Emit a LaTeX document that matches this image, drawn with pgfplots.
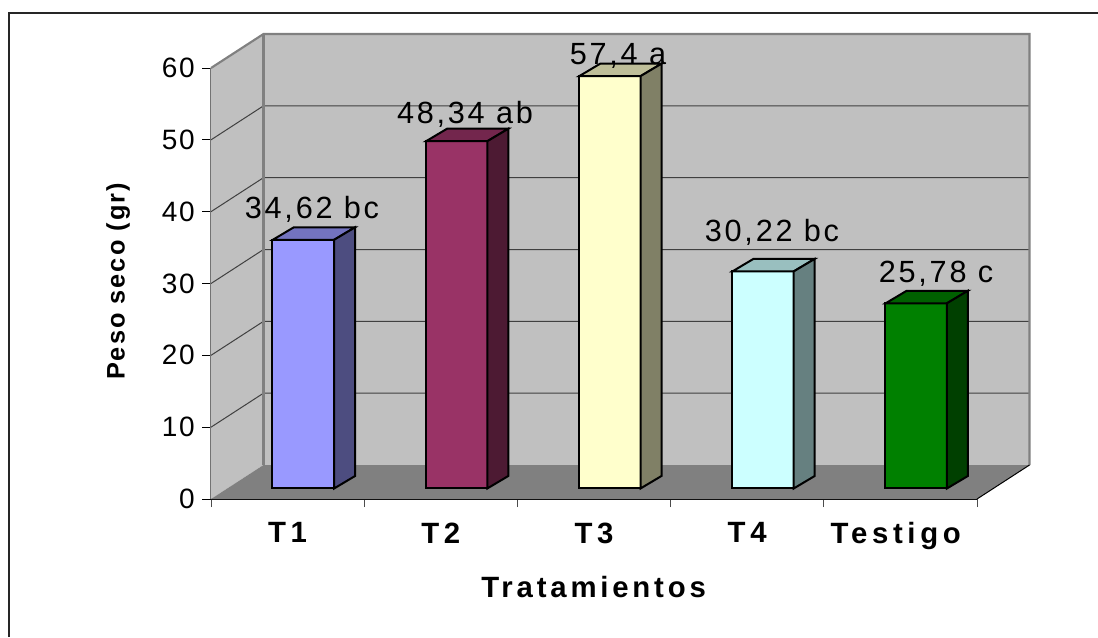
\documentclass[border=0pt]{standalone}
\usepackage{pgfplots}
\pgfplotsset{compat=1.18}
\usepackage{fontspec}
\setmainfont{Liberation Sans}
\newfontfamily\lab[LetterSpace=9]{Liberation Sans}
\newfontfamily\blab[LetterSpace=13]{Liberation Sans Bold}
\newfontfamily\xtlab[LetterSpace=16]{Liberation Sans Bold}
\newfontfamily\yblab[LetterSpace=8]{Liberation Sans Bold}
\newfontfamily\ticklab[LetterSpace=6]{Liberation Sans}
% 1 px of the reference = 0.75pt
\definecolor{wall}{HTML}{C0C0C0}
\definecolor{floorc}{HTML}{808080}
\begin{document}
\begin{tikzpicture}[x=0.75pt,y=-0.75pt]
\path[use as bounding box] (0,0) rectangle (1098,637);
\draw[line width=1.2pt,black!85] (9,637) -- (9,13) -- (1098,13);
\begin{axis}[
  at={(158.25pt,-374.25pt)},anchor=south west,
  scale only axis,width=574.5pt,height=323.25pt,
  xmin=0.5,xmax=5.5,ymin=0,ymax=60,
  clip=false,
  axis x line=bottom,axis y line=left,
  x axis line style={-,black,line width=1pt},
  y axis line style={-,black!55,line width=1.2pt},
  xtick={1,2,3,4,5},
  xticklabels={T1,T2,T3,T4,Testigo\rule{7pt}{0pt}},
  minor xtick={0.5,1.5,2.5,3.5,4.5,5.5},
  major tick length=6.75pt,
  minor tick length=6pt,
  ytick={0,10,20,30,40,50,60},
  y tick style={black,line width=0.75pt},
  x tick style={draw=none},
  minor x tick style={draw=black!70,line width=0.75pt},
  tick align=outside,
  yticklabel style={font=\fontsize{21}{24}\ticklab,xshift=-2pt,/pgf/number format/assume math mode=true},
  xticklabel style={font=\fontsize{22}{24}\xtlab,yshift=-7.5pt},
  xlabel={Tratamientos},
  ylabel={Peso seco (gr)},
  xlabel style={font=\fontsize{22}{24}\blab,at={(axis description cs:0.4995,-0.2042)},anchor=center},
  ylabel style={font=\fontsize{19}{22}\yblab,at={(axis description cs:-0.1214,0.5046)},anchor=center},
]
% walls and floor
\addplot[fill=wall,draw=none] coordinates {(0.5,0)(0.8427,4.735)(0.8427,64.735)(0.5,60)} -- cycle;
\addplot[fill=wall,draw=none] coordinates {(0.8427,4.735)(5.8427,4.735)(5.8427,64.735)(0.8427,64.735)} -- cycle;
\addplot[fill=floorc,draw=none] coordinates {(0.5,0)(5.5,0)(5.8427,4.735)(0.8427,4.735)} -- cycle;
% grid
\addplot[black!75,line width=0.75pt] coordinates {(0.5,10)(0.8427,14.735)(5.8427,14.735)};
\addplot[black!75,line width=0.75pt] coordinates {(0.5,20)(0.8427,24.735)(5.8427,24.735)};
\addplot[black!75,line width=0.75pt] coordinates {(0.5,30)(0.8427,34.735)(5.8427,34.735)};
\addplot[black!75,line width=0.75pt] coordinates {(0.5,40)(0.8427,44.735)(5.8427,44.735)};
\addplot[black!75,line width=0.75pt] coordinates {(0.5,50)(0.8427,54.735)(5.8427,54.735)};
% wall edges
\addplot[floorc,line width=1.6pt] coordinates {(0.5,60)(0.8427,64.735)(5.8427,64.735)(5.8427,4.735)};
\addplot[floorc,line width=1.6pt] coordinates {(0.8427,4.735)(0.8427,64.735)};
\addplot[black,line width=0.75pt] coordinates {(5.5,0)(5.8427,4.735)};
% bars: front face, top, side
\tikzset{bar3d/.style={draw=black,line width=1.5pt,line join=miter,xshift=11.9pt,yshift=7.9pt}}
\addplot[ybar,bar width=46.5pt,fill={rgb,255:red,153;green,153;blue,255},bar3d] coordinates {(1,34.62)};
\addplot[fill={rgb,255:red,115;green,115;blue,191},bar3d] coordinates {(0.8,34.62)(1.2,34.62)(1.337,36.36)(0.937,36.36)} -- cycle;
\addplot[fill={rgb,255:red,77;green,77;blue,128},bar3d] coordinates {(1.2,0)(1.337,1.74)(1.337,36.36)(1.2,34.62)} -- cycle;
\addplot[ybar,bar width=46.5pt,fill={rgb,255:red,153;green,51;blue,102},bar3d] coordinates {(2,48.34)};
\addplot[fill={rgb,255:red,115;green,38;blue,77},bar3d] coordinates {(1.8,48.34)(2.2,48.34)(2.337,50.08)(1.937,50.08)} -- cycle;
\addplot[fill={rgb,255:red,77;green,26;blue,51},bar3d] coordinates {(2.2,0)(2.337,1.74)(2.337,50.08)(2.2,48.34)} -- cycle;
\addplot[ybar,bar width=46.5pt,fill={rgb,255:red,255;green,255;blue,204},bar3d] coordinates {(3,57.4)};
\addplot[fill={rgb,255:red,191;green,191;blue,153},bar3d] coordinates {(2.8,57.4)(3.2,57.4)(3.337,59.14)(2.937,59.14)} -- cycle;
\addplot[fill={rgb,255:red,128;green,128;blue,102},bar3d] coordinates {(3.2,0)(3.337,1.74)(3.337,59.14)(3.2,57.4)} -- cycle;
\addplot[ybar,bar width=46.5pt,fill={rgb,255:red,204;green,255;blue,255},bar3d] coordinates {(4,30.22)};
\addplot[fill={rgb,255:red,153;green,191;blue,191},bar3d] coordinates {(3.8,30.22)(4.2,30.22)(4.337,31.96)(3.937,31.96)} -- cycle;
\addplot[fill={rgb,255:red,102;green,128;blue,128},bar3d] coordinates {(4.2,0)(4.337,1.74)(4.337,31.96)(4.2,30.22)} -- cycle;
\addplot[ybar,bar width=46.5pt,fill={rgb,255:red,0;green,128;blue,0},bar3d] coordinates {(5,25.78)};
\addplot[fill={rgb,255:red,0;green,96;blue,0},bar3d] coordinates {(4.8,25.78)(5.2,25.78)(5.337,27.52)(4.937,27.52)} -- cycle;
\addplot[fill={rgb,255:red,0;green,64;blue,0},bar3d] coordinates {(5.2,0)(5.337,1.74)(5.337,27.52)(5.2,25.78)} -- cycle;
\end{axis}
\begin{scope}[every node/.style={font=\fontsize{23}{27}\lab,inner sep=0pt}]
\node at (312,209.5) {34,62 bc};
\node at (465,114.5) {48,34 ab};
\node at (618,55.5) {57,4 a};
\node at (772,232.5) {30,22 bc};
\node at (936,273.5) {25,78 c};
\end{scope}
\end{tikzpicture}
\end{document}
